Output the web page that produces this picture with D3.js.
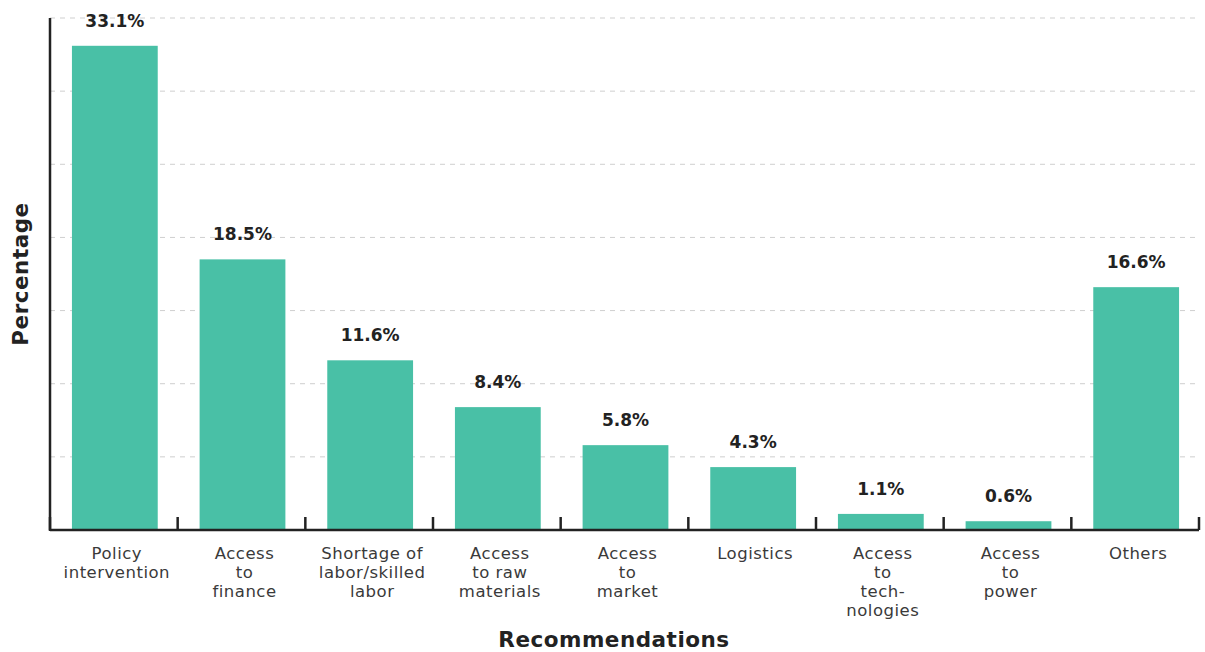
<!DOCTYPE html>
<html><head><meta charset="utf-8">
<script src="https://cdn.jsdelivr.net/npm/d3@7"></script>
<style>body{margin:0;background:#fff}svg{display:block}text{font-family:"DejaVu Sans",sans-serif}</style>
</head><body><svg id="c" width="1205" height="652"></svg>
<script>
const categories = ["Policy intervention","Access to finance","Shortage of labor/skilled labor","Access to raw materials","Access to market","Logistics","Access to technologies","Access to power","Others"];
const labelLines = [["Policy","intervention"],["Access","to","finance"],["Shortage of","labor/skilled","labor"],["Access","to raw","materials"],["Access","to","market"],["Logistics"],["Access","to","tech-","nologies"],["Access","to","power"],["Others"]];
const values = [33.1,18.5,11.6,8.4,5.8,4.3,1.1,0.6,16.6];
const valueLabels = ["33.1%","18.5%","11.6%","8.4%","5.8%","4.3%","1.1%","0.6%","16.6%"];
const gridTicks = [5,10,15,20,25,30,35];

(function(){
const svg = d3.select("#c");
const L=50, R=1199, T=18, B=530;
const x = d3.scaleBand().domain(categories).range([L,R]).padding(0);
const y = d3.scaleLinear().domain([0,35]).range([B,T]);
const bw = x.bandwidth(), barW = bw*0.672, off=(bw-barW)/2;

svg.append("g").selectAll("line").data(gridTicks).join("line")
  .attr("x1",L).attr("x2",R).attr("y1",d=>y(d)).attr("y2",d=>y(d))
  .attr("stroke","#cfcfcf").attr("stroke-width",1).attr("stroke-dasharray","5,5");

svg.append("g").selectAll("rect").data(values).join("rect")
  .attr("x",(d,i)=>x(categories[i])+off+1).attr("width",barW)
  .attr("y",d=>y(d)).attr("height",d=>y(0)-y(d)).attr("fill","#49c0a6");

svg.append("g").selectAll("text").data(values).join("text")
  .attr("x",(d,i)=>x(categories[i])+bw/2+1).attr("y",d=>y(d)-19)
  .attr("text-anchor","middle").attr("font-size",17).attr("font-weight",700).attr("fill","#222")
  .text((d,i)=>valueLabels[i]);

const xAxis = d3.axisBottom(x).tickSize(0).tickFormat("");
svg.append("g").attr("transform",`translate(0,${B})`).call(xAxis)
  .call(g=>g.select(".domain").attr("stroke","#222").attr("stroke-width",2.5).attr("d",`M${L},0H${R}`));
svg.append("g").selectAll("line").data(categories.map(c=>x(c)).concat([R])).join("line")
  .attr("x1",d=>d).attr("x2",d=>d).attr("y1",B).attr("y2",B-13).attr("stroke","#222").attr("stroke-width",2.5);
svg.append("line").attr("x1",L).attr("x2",L).attr("y1",T).attr("y2",B+1).attr("stroke","#222").attr("stroke-width",2.5);

const lab = svg.append("g").selectAll("text").data(categories).join("text")
  .attr("x",d=>x(d)+bw/2+3).attr("y",559).attr("text-anchor","middle")
  .attr("font-size",16.5).attr("letter-spacing",0.5).attr("fill","#3a3a3a");
lab.each(function(d,i){
  d3.select(this).selectAll("tspan").data(labelLines[i]).join("tspan")
    .attr("x",x(d)+bw/2+3).attr("dy",(t,j)=>j===0?0:19).text(t=>t);
});

svg.append("text").attr("x",614).attr("y",647).attr("text-anchor","middle")
  .attr("font-size",21.5).attr("font-weight",700).attr("letter-spacing",0.5).attr("fill","#222").text("Recommendations");
svg.append("text").attr("transform","translate(28,274) rotate(-90)").attr("text-anchor","middle")
  .attr("font-size",21.5).attr("font-weight",700).attr("letter-spacing",0.5).attr("fill","#222").text("Percentage");
})();
</script></body></html>
